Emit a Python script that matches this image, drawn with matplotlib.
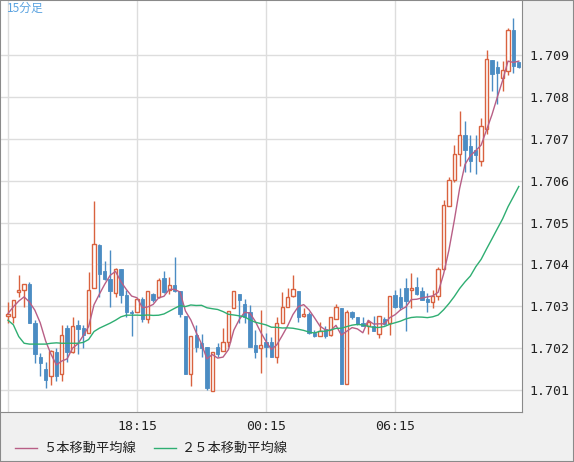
import matplotlib

matplotlib.use("Agg")
import matplotlib.pyplot as plt
from matplotlib.lines import Line2D
from matplotlib.patches import Rectangle
import numpy as np
import pandas as pd

# 15-minute candles, first bar at 12:15
opens = [1.70277, 1.70275, 1.70335, 1.70340, 1.70353, 1.70260, 1.70179, 1.70151, 1.70134, 1.70192,
         1.70138, 1.70249, 1.70192, 1.70256, 1.70249, 1.70236, 1.70345, 1.70446, 1.70384, 1.70365,
         1.70331, 1.70388, 1.70327, 1.70286, 1.70286, 1.70317, 1.70269, 1.70329, 1.70323, 1.70367,
         1.70339, 1.70352, 1.70337, 1.70277, 1.70138, 1.70231, 1.70212, 1.70202, 1.70098, 1.70204,
         1.70194, 1.70216, 1.70295, 1.70329, 1.70306, 1.70287, 1.70208, 1.70200, 1.70214, 1.70214,
         1.70180, 1.70260, 1.70299, 1.70325, 1.70337, 1.70277, 1.70281, 1.70236, 1.70230, 1.70246,
         1.70232, 1.70271, 1.70295, 1.70114, 1.70286, 1.70275, 1.70261, 1.70253, 1.70252, 1.70233,
         1.70271, 1.70260, 1.70327, 1.70323, 1.70343, 1.70340, 1.70347, 1.70337, 1.70317, 1.70311,
         1.70325, 1.70388, 1.70539, 1.70602, 1.70664, 1.70708, 1.70682, 1.70672, 1.70646, 1.70724,
         1.70888, 1.70872, 1.70846, 1.70862, 1.70960, 1.70884]
highs = [1.70311, 1.70315, 1.70376, 1.70353, 1.70359, 1.70267, 1.70188, 1.70168, 1.70196, 1.70200,
         1.70256, 1.70256, 1.70274, 1.70267, 1.70256, 1.70382, 1.70551, 1.70450, 1.70409, 1.70434,
         1.70392, 1.70388, 1.70339, 1.70291, 1.70321, 1.70323, 1.70337, 1.70331, 1.70367, 1.70385,
         1.70371, 1.70417, 1.70337, 1.70277, 1.70229, 1.70256, 1.70234, 1.70202, 1.70190, 1.70212,
         1.70248, 1.70289, 1.70337, 1.70329, 1.70317, 1.70303, 1.70244, 1.70291, 1.70236, 1.70228,
         1.70275, 1.70335, 1.70344, 1.70376, 1.70337, 1.70295, 1.70287, 1.70244, 1.70263, 1.70252,
         1.70274, 1.70306, 1.70295, 1.70291, 1.70289, 1.70275, 1.70275, 1.70267, 1.70277, 1.70277,
         1.70275, 1.70325, 1.70339, 1.70343, 1.70367, 1.70379, 1.70371, 1.70347, 1.70331, 1.70339,
         1.70393, 1.70553, 1.70608, 1.70684, 1.70766, 1.70742, 1.70708, 1.70708, 1.70750, 1.70912,
         1.70888, 1.70886, 1.70886, 1.70964, 1.70988, 1.70884]
lows = [1.70260, 1.70260, 1.70323, 1.70299, 1.70260, 1.70166, 1.70133, 1.70105, 1.70113, 1.70121,
        1.70123, 1.70168, 1.70188, 1.70187, 1.70200, 1.70236, 1.70343, 1.70323, 1.70363, 1.70299,
        1.70323, 1.70309, 1.70275, 1.70230, 1.70286, 1.70263, 1.70260, 1.70311, 1.70321, 1.70331,
        1.70329, 1.70335, 1.70275, 1.70138, 1.70109, 1.70192, 1.70180, 1.70101, 1.70098, 1.70180,
        1.70194, 1.70204, 1.70295, 1.70260, 1.70260, 1.70202, 1.70176, 1.70140, 1.70180, 1.70180,
        1.70166, 1.70260, 1.70299, 1.70323, 1.70263, 1.70275, 1.70234, 1.70228, 1.70230, 1.70224,
        1.70230, 1.70271, 1.70114, 1.70114, 1.70271, 1.70256, 1.70252, 1.70233, 1.70242, 1.70224,
        1.70256, 1.70232, 1.70295, 1.70291, 1.70242, 1.70297, 1.70327, 1.70315, 1.70286, 1.70295,
        1.70315, 1.70386, 1.70539, 1.70596, 1.70636, 1.70620, 1.70620, 1.70616, 1.70634, 1.70712,
        1.70814, 1.70782, 1.70814, 1.70852, 1.70858, 1.70868]
closes = [1.70283, 1.70315, 1.70340, 1.70353, 1.70260, 1.70186, 1.70164, 1.70125, 1.70194, 1.70133,
          1.70232, 1.70190, 1.70252, 1.70246, 1.70232, 1.70340, 1.70450, 1.70378, 1.70365, 1.70337,
          1.70388, 1.70327, 1.70286, 1.70285, 1.70317, 1.70269, 1.70337, 1.70315, 1.70364, 1.70335,
          1.70352, 1.70337, 1.70283, 1.70138, 1.70229, 1.70202, 1.70200, 1.70105, 1.70190, 1.70186,
          1.70214, 1.70289, 1.70337, 1.70315, 1.70275, 1.70204, 1.70190, 1.70208, 1.70204, 1.70180,
          1.70260, 1.70299, 1.70323, 1.70341, 1.70275, 1.70283, 1.70236, 1.70230, 1.70242, 1.70230,
          1.70274, 1.70298, 1.70114, 1.70287, 1.70274, 1.70258, 1.70252, 1.70263, 1.70242, 1.70277,
          1.70258, 1.70325, 1.70299, 1.70299, 1.70313, 1.70345, 1.70329, 1.70315, 1.70311, 1.70325,
          1.70388, 1.70543, 1.70602, 1.70664, 1.70710, 1.70674, 1.70648, 1.70662, 1.70730, 1.70890,
          1.70854, 1.70858, 1.70864, 1.70960, 1.70874, 1.70870]

# 25-bar average for the first bars (its window reaches before the visible range)
ma25_head = [1.70267, 1.70256, 1.70228, 1.70212, 1.70210, 1.70210, 1.70210, 1.70210, 1.70212, 1.70213,
             1.70212, 1.70212, 1.70212, 1.70212, 1.70214, 1.70221, 1.70240, 1.70248, 1.70254, 1.70260,
             1.70267, 1.70275, 1.70279, 1.70279]

time_ticks = [24, 48, 72]
time_labels = ["18:15", "00:15", "06:15"]
price_ticks = [1.701, 1.702, 1.703, 1.704, 1.705, 1.706, 1.707, 1.708, 1.709]

UP = "#d9623f"
DOWN = "#4b8cc3"
MA5_C = "#b85f86"
MA25_C = "#2fae72"
JP = ["Noto Sans CJK JP", "DejaVu Sans"]

df = pd.DataFrame({"open": opens, "high": highs, "low": lows, "close": closes})
ma5 = df["close"].rolling(5, min_periods=1).mean()
ma25 = df["close"].rolling(25).mean()
ma25.iloc[:len(ma25_head)] = ma25_head

fig = plt.figure(figsize=(5.74, 4.62), dpi=100, facecolor="#f0f0f0")
ax = fig.add_axes([1 / 574, 50 / 462, 521 / 574, 412 / 462])
ax.set_facecolor("white")

x = np.arange(len(df))
w = 0.62
for i, row in df.iterrows():
    up = row["close"] >= row["open"]
    lo, hi = sorted((row["open"], row["close"]))
    if up:
        ax.vlines(i, row["low"], lo, color=UP, lw=1, zorder=3)
        ax.vlines(i, hi, row["high"], color=UP, lw=1, zorder=3)
        ax.add_patch(Rectangle((i - w / 2, lo), w, max(hi - lo, 0.00001),
                               facecolor="white", edgecolor=UP, lw=1, zorder=4))
    else:
        ax.vlines(i, row["low"], row["high"], color=DOWN, lw=1, zorder=3)
        ax.add_patch(Rectangle((i - w / 2, lo), w, max(hi - lo, 0.00001),
                               facecolor=DOWN, edgecolor=DOWN, lw=0.6, zorder=4))

ax.plot(x, ma5, color=MA5_C, lw=1, zorder=5)
ax.plot(x, ma25, color=MA25_C, lw=1, zorder=5)

ax.set_xlim(-1.3, 95.6)
ax.set_ylim(1.70048, 1.71031)
ax.set_xticks(time_ticks)
ax.set_xticklabels(time_labels)
ax.set_xticks([0], minor=True)
ax.set_yticks(price_ticks)
ax.set_yticklabels([f"{p:.3f}" for p in price_ticks])
ax.yaxis.tick_right()
ax.tick_params(axis="both", which="both", length=0, labelsize=9.5, colors="#222222")
ax.tick_params(axis="y", pad=5)
ax.tick_params(axis="x", pad=6)
for lab in ax.get_xticklabels() + ax.get_yticklabels():
    lab.set_family("DejaVu Sans Mono")
ax.grid(True, which="both", color="#dddddd", lw=1)
ax.set_axisbelow(True)
for side in ("top", "left"):
    ax.spines[side].set_visible(False)
for side in ("right", "bottom"):
    ax.spines[side].set_color("#8a8a8a")

ax.text(0.012, 0.995, "15分足", transform=ax.transAxes, ha="left", va="top",
        fontsize=8.5, color="#5ba3e0", family=JP)

# legend along the bottom
fig.add_artist(Line2D([15 / 574, 37 / 574], [14 / 462, 14 / 462], color=MA5_C, lw=1))
fig.text(43 / 574, 14 / 462, "５本移動平均線", fontsize=9.5, family=JP, va="center", color="#222222")
fig.add_artist(Line2D([154 / 574, 176 / 574], [14 / 462, 14 / 462], color=MA25_C, lw=1))
fig.text(182 / 574, 14 / 462, "２５本移動平均線", fontsize=9.5, family=JP, va="center", color="#222222")

fig.add_artist(Rectangle((0, 0), 1, 1, transform=fig.transFigure, fill=False,
                         edgecolor="#8a8a8a", lw=1.5))

fig.savefig("out.png", dpi=100, facecolor=fig.get_facecolor())
